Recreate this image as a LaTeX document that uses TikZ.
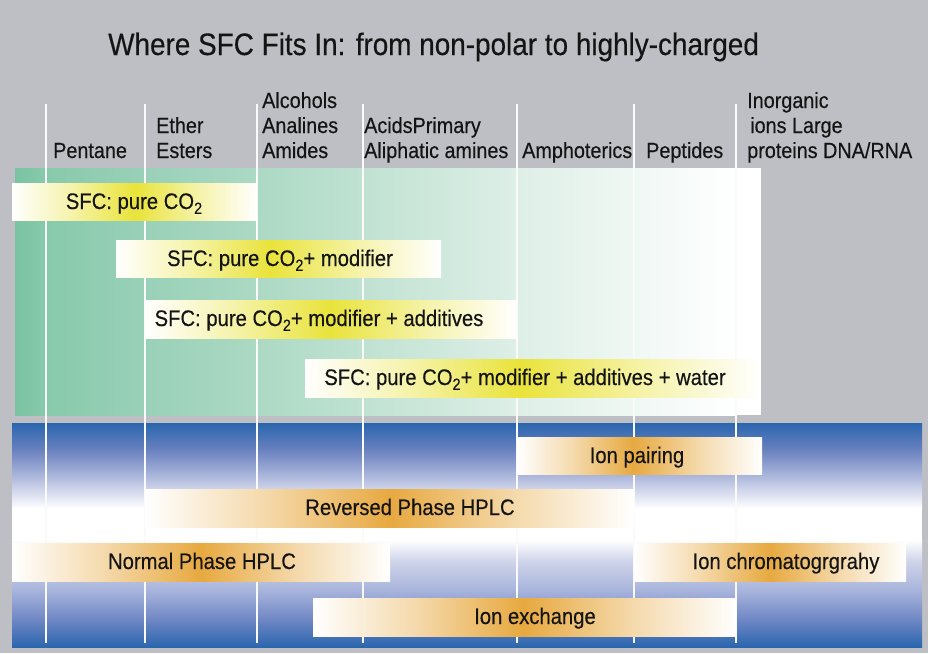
\documentclass[tikz,border=0pt]{standalone}
\usepackage{fontspec}
\setmainfont{Liberation Sans}[FakeStretch=0.9,FakeBold=0.35]
\definecolor{bgc}{RGB}{190,191,196}
\definecolor{grA}{RGB}{122,195,162}
\definecolor{grB}{RGB}{136,201,172}
\definecolor{grC}{RGB}{172,217,196}
\definecolor{grD}{RGB}{222,239,231}
\definecolor{bl0}{RGB}{42,102,174}
\definecolor{bl1}{RGB}{106,130,192}
\definecolor{bl2}{RGB}{183,192,224}
\definecolor{bl3}{RGB}{208,213,234}
\definecolor{bl4}{RGB}{168,180,220}
\definecolor{bl5}{RGB}{110,134,196}
\definecolor{yel}{RGB}{233,227,58}
\definecolor{org}{RGB}{231,169,64}
\definecolor{ink}{RGB}{20,20,20}
\newcommand\cosub[1]{\raisebox{-0.4ex}{\fontsize{16}{16}\selectfont #1}}
\newcommand\mkbar[6]{%
  \fill[left color=white, right color=#6!45] (#1,#4) rectangle ({(#1+#2)/2+0.4},#5);
  \fill[left color=#6!45, right color=#6] ({(#1+#2)/2},#4) rectangle ({#2+0.4},#5);
  \fill[left color=#6, right color=#6!45] (#2,#4) rectangle ({(#2+#3)/2+0.4},#5);
  \fill[left color=#6!45, right color=white] ({(#2+#3)/2},#4) rectangle (#3,#5);
}
\tikzset{
  vline/.style={draw=white!96!gray, line width=2pt},
  cat/.style={inner sep=0pt, anchor=base west, text=ink, font=\fontsize{22}{25}\selectfont},
  bartext/.style={inner sep=0pt, anchor=base, text=ink, font=\fontsize{22.5}{25}\selectfont},
}
\begin{document}
\begin{tikzpicture}[x=1pt,y=-1pt]
\useasboundingbox (0,0) rectangle (928,653);
\fill[bgc] (0,0) rectangle (928,653);
% green panel
\fill[left color=grA, right color=grB] (15,168) rectangle (46.5,415);
\fill[left color=grB, right color=grC] (46,168) rectangle (257.5,415);
\fill[left color=grC, right color=grD] (257,168) rectangle (517.5,415);
\fill[left color=grD, right color=white] (517,168) rectangle (735.5,415);
\fill[white] (735,168) rectangle (761,415);
% blue panel
\fill[top color=bl0, bottom color=bl1] (12,423) rectangle (922,450.5);
\fill[top color=bl1, bottom color=bl2] (12,450) rectangle (922,480.5);
\fill[top color=bl2, bottom color=white] (12,480) rectangle (922,508.5);
\fill[white] (12,508) rectangle (922,540.5);
\fill[top color=white, bottom color=bl3] (12,540) rectangle (922,560.5);
\fill[top color=bl3, bottom color=bl4] (12,560) rectangle (922,590.5);
\fill[top color=bl4, bottom color=bl5] (12,590) rectangle (922,620.5);
\fill[top color=bl5, bottom color=bl0] (12,620) rectangle (922,647);
% vertical lines
\foreach \x in {46,145,257,363,517,634,736}
  \draw[vline] (\x,104) -- (\x,643);
% SFC bars
\mkbar{12}{135}{257}{183}{220}{yel}
\mkbar{116}{270}{441}{240}{277}{yel}
\mkbar{145}{330}{517}{300}{338}{yel}
\mkbar{305}{520}{760}{359}{397}{yel}
% HPLC bars
\mkbar{517}{633}{762}{437}{474}{org}
\mkbar{145}{390}{634}{489}{527}{org}
\mkbar{12}{200}{390}{543}{581}{org}
\mkbar{634}{770}{906}{543}{581}{org}
\mkbar{313}{523}{736}{598}{636}{org}
% title
\node[inner sep=0pt, anchor=base west, text=ink, font=\fontsize{31}{34}\selectfont] (title) at (108,55)
  {Where SFC Fits In: from non-polar to highly-charged};
% category labels
\node[cat] (c1) at (53,158) {Pentane};
\node[cat] (c2) at (156,158) {\begin{tabular}[b]{@{}l@{}}Ether\\Esters\end{tabular}};
\node[cat] (c3) at (262,158) {\begin{tabular}[b]{@{}l@{}}Alcohols\\Analines\\Amides\end{tabular}};
\node[cat] (c4) at (364,158) {\begin{tabular}[b]{@{}l@{}}AcidsPrimary\\Aliphatic amines\end{tabular}};
\node[cat] (c5) at (522,158) {Amphoterics};
\node[cat] (c6) at (646,158) {Peptides};
\node[cat] (c7) at (747,158) {\begin{tabular}[b]{@{}l@{}}Inorganic\\\hspace{3pt}ions Large\\proteins DNA/RNA\end{tabular}};
% bar texts
\node[bartext] (s1) at (134,209) {SFC: pure CO\cosub{2}};
\node[bartext] (s2) at (280,266) {SFC: pure CO\cosub{2}+ modifier};
\node[bartext] (s3) at (319,326) {SFC: pure CO\cosub{2}+ modifier + additives};
\node[bartext] (s4) at (525,385) {SFC: pure CO\cosub{2}+ modifier + additives + water};
\node[bartext] (h1) at (637,463) {Ion pairing};
\node[bartext] (h2) at (410,515) {Reversed Phase HPLC};
\node[bartext] (h3) at (202,569) {Normal Phase HPLC};
\node[bartext] (h4) at (786,569) {Ion chromatogrgrahy};
\node[bartext] (h5) at (535,624) {Ion exchange};
\end{tikzpicture}
\end{document}
